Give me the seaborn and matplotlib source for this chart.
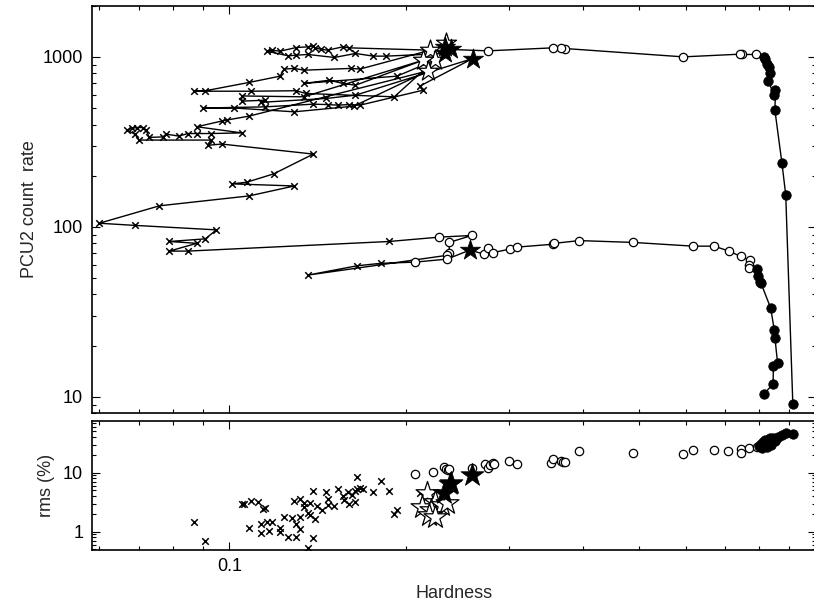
import matplotlib
matplotlib.use("Agg")
import matplotlib.pyplot as plt
from matplotlib.ticker import FixedLocator, FixedFormatter, LogLocator, NullFormatter
import numpy as np
import pandas as pd
import seaborn as sns

# ---------------------------------------------------------------------------
# Hardness-intensity track, in time order.
# State codes: L = filled circle, H = open circle, X = cross,
#              So = open star, Sf = filled star
# ---------------------------------------------------------------------------

# rise from quiescence and the bright hard-to-soft transition
rise_state = ["L"] * 12 + ["H"] * 8 + ["Sf", "Sf", "So", "Sf"]
rise_hardness = [0.913, 0.888, 0.875, 0.851, 0.853, 0.848, 0.829, 0.835, 0.830, 0.825, 0.820, 0.815,
                 0.791, 0.747, 0.741, 0.594, 0.373, 0.367, 0.356, 0.276,
                 0.239, 0.233, 0.234, 0.233]
rise_rate = [9.1, 154, 236, 486, 640, 600, 720, 806, 873, 914, 965, 1000,
             1033, 1033, 1037, 1000, 1120, 1130, 1130, 1085,
             1105, 1145, 1208, 1047]

# soft state: zig-zag decay with intermediate excursions (stars)
soft_hardness = [0.185, 0.176, 0.164, 0.151, 0.136, 0.130, 0.126,
                 0.116, 0.118, 0.122, 0.130, 0.136, 0.139, 0.140, 0.143, 0.147, 0.156, 0.160,
                 0.220,
                 0.167, 0.161, 0.134, 0.129, 0.124, 0.122, 0.108, 0.091, 0.087, 0.109, 0.130, 0.135, 0.191,
                 0.224,
                 0.193, 0.134, 0.148, 0.156, 0.164,
                 0.214,
                 0.134, 0.105, 0.105, 0.115, 0.113, 0.146, 0.164,
                 0.260,
                 0.211, 0.214, 0.167, 0.160, 0.153, 0.147, 0.139, 0.115, 0.090, 0.102, 0.129, 0.163,
                 0.218,
                 0.108, 0.099, 0.097, 0.088, 0.105, 0.093, 0.088, 0.085, 0.082, 0.078, 0.077, 0.073,
                 0.0721, 0.0711, 0.0695, 0.0681, 0.0668, 0.069, 0.0702, 0.093, 0.092, 0.097, 0.139,
                 0.119, 0.107, 0.101, 0.129, 0.108, 0.076, 0.060, 0.069, 0.095, 0.091, 0.079, 0.088,
                 0.079, 0.085, 0.187]
soft_rate = [1010, 1010, 1047, 992, 1033, 1023, 1014,
             1080, 1095, 1080, 1135, 1145, 1160, 1130, 1110, 1095, 1145, 1130,
             1095,
             848, 855, 835, 855, 848, 770, 707, 632, 628, 628, 632, 609, 582,
             956,
             770, 698, 729, 698, 681,
             956,
             582, 589, 549, 556, 540, 569, 595,
             978,
             672, 637, 520, 524, 520, 524, 527, 508, 500, 500, 475, 513,
             827,
             448, 425, 419, 388, 357, 354, 354, 354, 342, 351, 338, 336,
             371, 384, 384, 379, 371, 351, 324, 324, 302, 307, 268,
             205, 183, 179, 174, 152, 133, 105, 102, 96, 85, 82, 80,
             72, 72, 82]
soft_state = (["X"] * 18 + ["So"] + ["X"] * 13 + ["So"] + ["X"] * 5 + ["So"] +
              ["X"] * 7 + ["Sf"] + ["X"] * 12 + ["So"] + ["X"] * 38)

# faint soft-to-hard return and decay
decay_state = (["H"] * 5 + ["X"] * 3 + ["H"] * 2 + ["Sf"] + ["H"] * 16 + ["L"] * 11)
decay_hardness = [0.228, 0.259, 0.237, 0.237, 0.235, 0.136, 0.165, 0.181, 0.207, 0.235,
                  0.257, 0.272, 0.276, 0.281, 0.301, 0.309, 0.356, 0.358, 0.395, 0.487,
                  0.617, 0.670, 0.711, 0.744, 0.771, 0.770, 0.769,
                  0.794, 0.797, 0.804, 0.806, 0.837, 0.849, 0.851, 0.860, 0.846, 0.845, 0.815]
decay_rate = [87, 89, 81, 70, 68, 52, 59, 61, 62, 64.6,
              73, 69, 75, 70.5, 74, 76, 79, 80, 83, 81,
              77, 77, 72, 67, 63.6, 60, 57,
              56.5, 51.5, 47.5, 46.5, 33.3, 24.7, 22.3, 15.8, 15.2, 11.9, 10.4]

# ---------------------------------------------------------------------------
# Fractional rms versus hardness
# ---------------------------------------------------------------------------
rms_cross_h = [0.0871, 0.0910, 0.105, 0.106, 0.109, 0.112, 0.114, 0.115, 0.108, 0.113, 0.113,
               0.116, 0.118, 0.117, 0.122, 0.122, 0.124, 0.126, 0.128, 0.130, 0.130, 0.132,
               0.132, 0.129, 0.132, 0.134, 0.134, 0.136, 0.137, 0.137, 0.136, 0.139, 0.139,
               0.140, 0.141, 0.144, 0.146, 0.147, 0.147, 0.151, 0.153, 0.156, 0.157, 0.159,
               0.160, 0.162, 0.164, 0.164, 0.165, 0.165, 0.167, 0.169, 0.176, 0.181, 0.187,
               0.191, 0.193, 0.211]
rms_cross_v = [1.46, 0.69, 2.91, 2.95, 3.35, 3.15, 2.40, 2.49, 1.17, 1.33, 0.95,
               1.44, 1.46, 1.03, 1.16, 0.98, 1.79, 0.82, 1.69, 1.33, 0.82, 1.79,
               1.10, 3.31, 3.54, 3.03, 2.65, 2.10, 1.92, 3.03, 0.52, 4.89, 0.77,
               1.62, 2.73, 2.36, 4.77, 2.83, 3.54, 2.76, 5.22, 4.03, 3.45, 4.70,
               2.95, 4.18, 3.22, 4.96, 8.57, 5.35, 5.56, 5.22, 4.77, 7.22, 4.96,
               1.99, 2.33, 4.47]

rms_open_h = [0.207, 0.222, 0.232, 0.234, 0.236, 0.237, 0.259, 0.273, 0.276, 0.278, 0.281,
              0.283, 0.300, 0.309, 0.354, 0.356, 0.367, 0.371, 0.373, 0.395, 0.487, 0.594,
              0.617, 0.670, 0.707, 0.744, 0.744, 0.769, 0.794]
rms_open_v = [9.4, 10.1, 12.3, 11.7, 11.1, 11.5, 11.9, 14.0, 11.9, 13.5, 14.8,
              14.3, 15.8, 14.0, 14.8, 17.1, 15.6, 15.0, 15.3, 23.3, 21.8, 20.5,
              24.2, 24.2, 23.6, 24.9, 21.8, 25.8, 26.9]

rms_ostar_h = [0.217, 0.224, 0.213, 0.221, 0.230, 0.235, 0.219, 0.224]
rms_ostar_v = [4.58, 3.22, 2.65, 2.33, 2.84, 3.03, 1.92, 1.79]

rms_fstar_h = [0.232, 0.238, 0.239, 0.259]
rms_fstar_v = [4.58, 6.4, 6.6, 9.1]

rms_filled_h = [0.800, 0.805, 0.808, 0.812, 0.815, 0.818, 0.822, 0.825, 0.828, 0.832, 0.835,
                0.838, 0.842, 0.845, 0.850, 0.855, 0.860, 0.875, 0.888, 0.913]
rms_filled_v = [28.5, 31.0, 26.5, 33.0, 29.0, 35.5, 31.5, 27.5, 36.5, 33.0, 38.0,
                30.0, 35.0, 39.0, 34.0, 37.5, 40.5, 43.0, 47.6, 44.8]

# ---------------------------------------------------------------------------
track = pd.DataFrame({
    "hardness": rise_hardness + soft_hardness + decay_hardness,
    "rate": rise_rate + soft_rate + decay_rate,
    "state": rise_state + soft_state + decay_state,
})

sns.set_style("ticks", {"xtick.direction": "in", "ytick.direction": "in"})
plt.rcParams["font.family"] = ["Liberation Sans", "DejaVu Sans"]
plt.rcParams["font.size"] = 13

fig = plt.figure(figsize=(8.14, 6.01), dpi=100)
ax_top = fig.add_axes([0.11241, 0.31231, 0.89005, 0.67821])
ax_bot = fig.add_axes([0.11241, 0.08486, 0.89005, 0.21514])

for ax in (ax_top, ax_bot):
    ax.set_xscale("log")
    ax.set_yscale("log")

marker_styles = {
    "X": dict(marker="x", s=22, color="black", linewidth=1.1, zorder=3),
    "H": dict(marker="o", s=36, color="white", edgecolor="black", linewidth=0.9, zorder=4),
    "L": dict(marker="o", s=46, color="black", edgecolor="black", linewidth=0.6, zorder=4),
    "So": dict(marker="*", s=230, color="white", edgecolor="black", linewidth=0.9, zorder=5),
    "Sf": dict(marker="*", s=230, color="black", edgecolor="black", linewidth=0.6, zorder=5),
}

# top panel: connected track plus state symbols
sns.lineplot(data=track, x="hardness", y="rate", sort=False, estimator=None,
             color="black", linewidth=1.0, ax=ax_top, zorder=2)
for state, style in marker_styles.items():
    sub = track[track["state"] == state]
    sns.scatterplot(data=sub, x="hardness", y="rate", ax=ax_top, legend=False, **style)

# bottom panel: rms scatter
rms_groups = [
    ("X", rms_cross_h, rms_cross_v),
    ("H", rms_open_h, rms_open_v),
    ("L", rms_filled_h, rms_filled_v),
    ("So", rms_ostar_h, rms_ostar_v),
    ("Sf", rms_fstar_h, rms_fstar_v),
]
for state, h, v in rms_groups:
    style = dict(marker_styles[state])
    if state in ("So", "Sf"):
        style["s"] = 300
    sns.scatterplot(x=h, y=v, ax=ax_bot, legend=False, **style)

# axes ranges and ticks
ax_top.set_xlim(0.0582, 1.0)
ax_bot.set_xlim(0.0582, 1.0)
ax_top.set_ylim(8.0, 2000)
ax_bot.set_ylim(0.49, 76)

for ax in (ax_top, ax_bot):
    ax.xaxis.set_major_locator(FixedLocator([0.1, 1.0]))
    ax.xaxis.set_minor_locator(LogLocator(base=10, subs=np.arange(2, 10)))
    ax.xaxis.set_minor_formatter(NullFormatter())
    ax.yaxis.set_minor_locator(LogLocator(base=10, subs=np.arange(2, 10)))
    ax.yaxis.set_minor_formatter(NullFormatter())
    ax.tick_params(which="both", direction="in", top=True, right=True,
                   width=0.8, colors="black", labelsize=13, pad=6)
    ax.tick_params(which="major", length=5.5)
    ax.tick_params(which="minor", length=3)
    for sp in ax.spines.values():
        sp.set_linewidth(1.2)
        sp.set_color("black")

ax_top.xaxis.set_major_formatter(NullFormatter())
ax_bot.xaxis.set_major_formatter(FixedFormatter(["0.1", ""]))
ax_top.yaxis.set_major_locator(FixedLocator([10, 100, 1000]))
ax_top.yaxis.set_major_formatter(FixedFormatter(["10", "100", "1000"]))
ax_bot.yaxis.set_major_locator(FixedLocator([1, 10]))
ax_bot.yaxis.set_major_formatter(FixedFormatter(["1", "10"]))

ax_top.set_xlabel("")
ax_top.set_ylabel("PCU2 count  rate", fontsize=13)
ax_top.yaxis.set_label_coords(-0.074, 0.5)
ax_bot.set_ylabel("rms (%)", fontsize=13)
ax_bot.yaxis.set_label_coords(-0.050, 0.5)
ax_bot.set_xlabel("Hardness", fontsize=13, labelpad=7)

fig.savefig("out.png", dpi=100)
